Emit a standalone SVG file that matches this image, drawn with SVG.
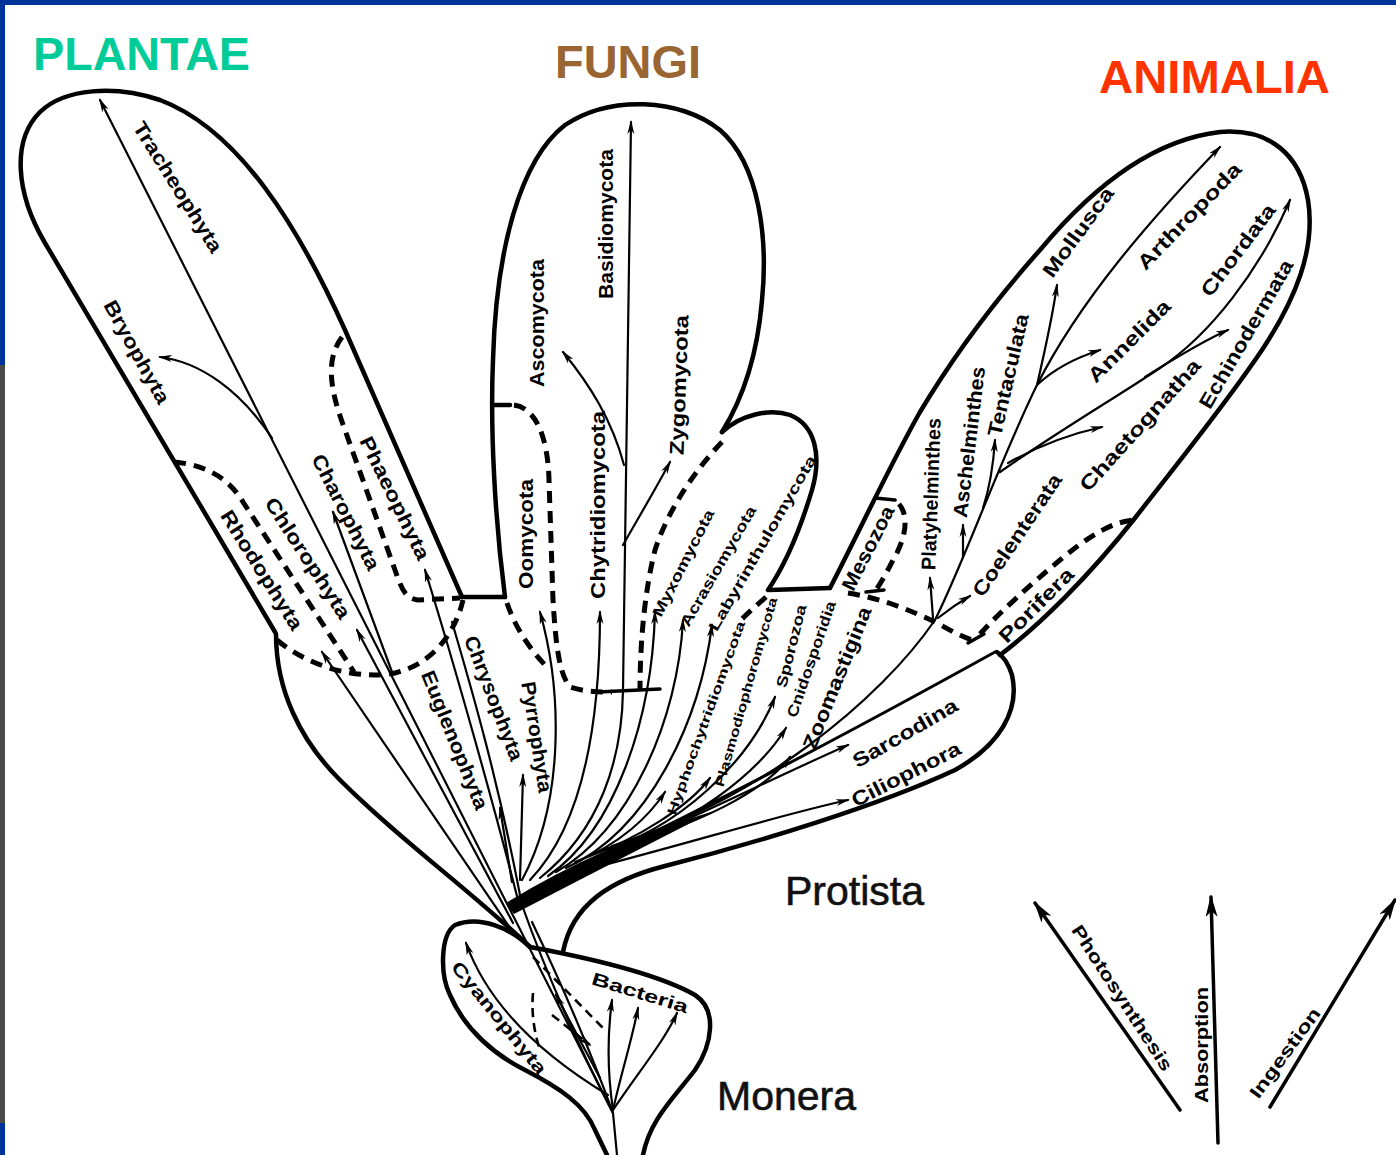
<svg xmlns="http://www.w3.org/2000/svg" width="1396" height="1155" viewBox="0 0 1396 1155">
<defs>
<style>
.o{fill:none;stroke:#000;stroke-width:4.5;stroke-linecap:round;stroke-linejoin:round}
.l{fill:none;stroke:#000;stroke-width:2.2;stroke-linecap:round}
.d{fill:none;stroke:#000;stroke-width:5;stroke-dasharray:12 8}
.dm{fill:none;stroke:#000;stroke-width:2.6;stroke-dasharray:9 6}
.n{fill:none;stroke:#000;stroke-width:3.5;stroke-linecap:round}
.t{font-family:"Liberation Sans",Arial,sans-serif;font-weight:bold;font-size:20px;fill:#000;text-anchor:middle;dominant-baseline:central}
.s{font-size:15px}
.xs{font-size:13px}
.big{font-family:"Liberation Sans",Arial,sans-serif;font-size:41px;fill:#111;stroke:#111;stroke-width:0.6}
.ttl{font-family:"Liberation Sans",Arial,sans-serif;font-weight:bold;font-size:46px}
</style>
<marker id="a" viewBox="0 0 14 8" refX="12" refY="4" markerWidth="14" markerHeight="8" orient="auto" markerUnits="userSpaceOnUse"><path d="M0,0.5 L14,4 L0,7.5 L4,4 Z" fill="#000"/></marker>
<marker id="ab" viewBox="0 0 22 12" refX="20" refY="6" markerWidth="22" markerHeight="12" orient="auto" markerUnits="userSpaceOnUse"><path d="M0,0 L22,6 L0,12 L6,6 Z" fill="#000"/></marker>
</defs>
<rect width="1396" height="1155" fill="#fff"/>
<g id="frame">
<rect x="0" y="0" width="1396" height="5" fill="#003399"/>
<rect x="0" y="0" width="5" height="365" fill="#003399"/>
<rect x="0" y="365" width="5" height="758" fill="#4a4a4a"/>
<rect x="0" y="1123" width="5" height="32" fill="#003399"/>
</g>
<g id="titles">
<text class="ttl" x="33" y="70" fill="#00CC99" textLength="217" lengthAdjust="spacingAndGlyphs">PLANTAE</text>
<text class="ttl" x="555" y="78" fill="#996633" textLength="146" lengthAdjust="spacingAndGlyphs">FUNGI</text>
<text class="ttl" x="1099" y="93" fill="#FF3300" textLength="231" lengthAdjust="spacingAndGlyphs">ANIMALIA</text>
</g>
<g id="plantae">
<path class="o" d="M275,632 C200,505 100,335 45,243 C15,192 12,140 40,112 C65,88 115,85 160,100 C240,130 300,230 345,330 L462,597"/>
<path class="d" d="M277,640 C310,668 360,680 395,673 C430,665 455,635 463,600"/>
<path class="d" d="M174,462 C208,465 230,480 243,502 L354,672"/>
<path class="d" d="M342,337 C325,360 330,390 345,430 L395,570 C402,590 405,598 418,600 L460,598"/>
<text class="t" transform="translate(178 187) rotate(58)" textLength="150" lengthAdjust="spacingAndGlyphs">Tracheophyta</text>
<text class="t" transform="translate(137 352) rotate(61)" textLength="115" lengthAdjust="spacingAndGlyphs">Bryophyta</text>
<text class="t" transform="translate(395 498) rotate(64)" textLength="135" lengthAdjust="spacingAndGlyphs">Phaeophyta</text>
<text class="t" transform="translate(346 512) rotate(63)" textLength="127" lengthAdjust="spacingAndGlyphs">Charophyta</text>
<text class="t" transform="translate(308 558) rotate(57)" textLength="140" lengthAdjust="spacingAndGlyphs">Chlorophyta</text>
<text class="t" transform="translate(262 570) rotate(58)" textLength="137" lengthAdjust="spacingAndGlyphs">Rhodophyta</text>
</g>
<g id="fungi">
<path class="o" d="M505,597 C495,520 490,430 493,360 C496,250 520,160 565,125 C610,95 680,98 720,130 C760,165 768,240 762,300 C757,360 742,400 722,432"/>
<path class="o" d="M722,432 C740,415 770,408 790,415 C815,425 822,455 812,490 C800,530 785,565 768,590"/>
<path class="o" d="M493,405 L510,405"/>
<path class="d" d="M514,405 C537,408 548,440 549,480 L553,600 C556,650 560,675 570,687 C585,692 600,692 612,692"/>
<path class="d" d="M507,603 C515,627 530,650 548,668"/>
<path class="d" d="M722,442 C695,470 668,510 655,550 C645,590 640,640 640,690"/>
<path class="d" d="M766,597 C757,605 749,612 742,619"/>
<path class="o" d="M598,692 L660,689" style="stroke-width:3.5"/>
<text class="t" transform="translate(526 534) rotate(-90)" textLength="110" lengthAdjust="spacingAndGlyphs">Oomycota</text>
<text class="t" transform="translate(537 323) rotate(-90)" textLength="128" lengthAdjust="spacingAndGlyphs">Ascomycota</text>
<text class="t" transform="translate(598 505) rotate(-90)" textLength="188" lengthAdjust="spacingAndGlyphs">Chytridiomycota</text>
<text class="t" transform="translate(606 224) rotate(-90)" textLength="150" lengthAdjust="spacingAndGlyphs">Basidiomycota</text>
<text class="t" transform="translate(679 385) rotate(-88)" textLength="140" lengthAdjust="spacingAndGlyphs">Zygomycota</text>
<text class="t s" transform="translate(683 563) rotate(-63)" textLength="118" lengthAdjust="spacingAndGlyphs">Myxomycota</text>
<text class="t s" transform="translate(718 566) rotate(-60)" textLength="136" lengthAdjust="spacingAndGlyphs">Acrasiomycota</text>
<text class="t s" transform="translate(762 543) rotate(-60)" textLength="200" lengthAdjust="spacingAndGlyphs">Labyrinthulomycota</text>
</g>
<g id="animalia">
<path class="o" d="M830,588 C860,530 890,465 920,412 C960,345 1000,295 1040,250 C1090,190 1150,140 1220,132 C1270,128 1300,155 1308,200 C1316,250 1295,300 1262,350 C1225,405 1180,460 1135,518 C1090,575 1040,625 1000,655"/>
<path class="o" d="M770,590 L830,588"/>
<path class="o" d="M875,498 L895,500" style="stroke-width:3.5"/>
<path class="d" d="M899,504 C910,517 905,540 893,560 C886,574 880,584 876,590"/>
<path class="o" d="M866,592 L884,590" style="stroke-width:3.5"/>
<path class="d" d="M848,593 C880,598 910,610 935,622 C950,630 962,637 972,640"/>
<path class="o" d="M968,643 L984,634" style="stroke-width:3.5"/>
<path class="d" d="M980,634 C1000,612 1030,585 1060,560 C1090,535 1115,520 1137,520"/>
<text class="t" transform="translate(868 548) rotate(-63)" textLength="92" lengthAdjust="spacingAndGlyphs">Mesozoa</text>
<text class="t" transform="translate(931 494) rotate(-88)" textLength="152" lengthAdjust="spacingAndGlyphs">Platyhelminthes</text>
<text class="t" transform="translate(969 442) rotate(-83)" textLength="152" lengthAdjust="spacingAndGlyphs">Aschelminthes</text>
<text class="t" transform="translate(1008 375) rotate(-77)" textLength="125" lengthAdjust="spacingAndGlyphs">Tentaculata</text>
<text class="t" transform="translate(1017 535) rotate(-56)" textLength="143" lengthAdjust="spacingAndGlyphs">Coelenterata</text>
<text class="t" transform="translate(1036 605) rotate(-45)" textLength="97" lengthAdjust="spacingAndGlyphs">Porifera</text>
<text class="t" transform="translate(1140 425) rotate(-48)" textLength="170" lengthAdjust="spacingAndGlyphs">Chaetognatha</text>
<text class="t" transform="translate(1129 341) rotate(-45)" textLength="108" lengthAdjust="spacingAndGlyphs">Annelida</text>
<text class="t" transform="translate(1078 232) rotate(-54)" textLength="106" lengthAdjust="spacingAndGlyphs">Mollusca</text>
<text class="t" transform="translate(1189 216) rotate(-46)" textLength="140" lengthAdjust="spacingAndGlyphs">Arthropoda</text>
<text class="t" transform="translate(1238 250) rotate(-53)" textLength="110" lengthAdjust="spacingAndGlyphs">Chordata</text>
<text class="t" transform="translate(1246 334) rotate(-60)" textLength="168" lengthAdjust="spacingAndGlyphs">Echinodermata</text>
</g>
<g id="protista">
<path class="o" d="M276,634 C276,690 300,740 340,780 C400,840 470,890 530,947"/>
<path class="o" d="M563,952 C572,905 610,880 665,866 C760,842 880,805 955,770 C1000,745 1020,710 1012,675 C1008,662 1003,656 997,652"/>
<path class="o" d="M462,597 L505,597"/>
<path d="M506,903 Q600,845 714,811 Q610,864 514,914 Z" fill="#000"/>
<text class="t" transform="translate(455 740) rotate(68)" textLength="148" lengthAdjust="spacingAndGlyphs">Euglenophyta</text>
<text class="t" transform="translate(494 698) rotate(69)" textLength="132" lengthAdjust="spacingAndGlyphs">Chrysophyta</text>
<text class="t" transform="translate(537 737) rotate(81)" textLength="112" lengthAdjust="spacingAndGlyphs">Pyrrophyta</text>
<text class="t xs" transform="translate(706 718) rotate(-70)" textLength="205" lengthAdjust="spacingAndGlyphs">Hyphochytridiomycota</text>
<text class="t xs" transform="translate(746 692) rotate(-74)" textLength="196" lengthAdjust="spacingAndGlyphs">Plasmodiophoromycota</text>
<text class="t s" transform="translate(791 646) rotate(-76)" textLength="85" lengthAdjust="spacingAndGlyphs">Sporozoa</text>
<text class="t s" transform="translate(811 659) rotate(-71)" textLength="122" lengthAdjust="spacingAndGlyphs">Cnidosporidia</text>
<text class="t" transform="translate(837 678) rotate(-68)" textLength="152" lengthAdjust="spacingAndGlyphs">Zoomastigina</text>
<text class="t" transform="translate(905 733) rotate(-30)" textLength="118" lengthAdjust="spacingAndGlyphs">Sarcodina</text>
<text class="t" transform="translate(906 774) rotate(-27)" textLength="120" lengthAdjust="spacingAndGlyphs">Ciliophora</text>
<text class="big" x="785" y="905">Protista</text>
</g>
<g id="monera">
<path class="o" d="M530,947 C510,928 480,915 455,925 C440,935 440,975 450,995 C465,1030 495,1055 525,1070 C560,1088 585,1105 595,1130 L607,1155"/>
<path class="o" d="M530,947 C600,960 660,975 695,995 C718,1010 712,1045 695,1070 C672,1100 650,1120 643,1155"/>
<path class="dm" d="M533,957 L603,1028"/>
<path class="dm" d="M533,993 C531,1015 535,1035 540,1050"/>
<path class="dm" d="M552,1015 L590,1045" marker-end="url(#a)"/>
<text class="t" transform="translate(640 993) rotate(17)" textLength="100" lengthAdjust="spacingAndGlyphs" style="font-size:18px">Bacteria</text>
<text class="t" transform="translate(499 1018) rotate(51)" textLength="140" lengthAdjust="spacingAndGlyphs" style="font-size:18px">Cyanophyta</text>
<text class="big" x="717" y="1110">Monera</text>
</g>
<g id="nutrition">
<path class="n" d="M1180,1110 L1035,903" marker-end="url(#ab)"/>
<path class="n" d="M1218,1143 L1211,897" marker-end="url(#ab)"/>
<path class="n" d="M1270,1107 L1395,900" marker-end="url(#ab)"/>
<text class="t" style="font-size:18px" transform="translate(1122 998) rotate(57)" textLength="170" lengthAdjust="spacingAndGlyphs">Photosynthesis</text>
<text class="t" style="font-size:18px" transform="translate(1202 1045) rotate(-90)" textLength="116" lengthAdjust="spacingAndGlyphs">Absorption</text>
<text class="t" style="font-size:18px" transform="translate(1285 1053) rotate(-54)" textLength="107" lengthAdjust="spacingAndGlyphs">Ingestion</text>
</g>
<g id="connectors">
<path class="l" d="M613,1113 L100,100" marker-end="url(#a)"/>
<path class="l" d="M272,438 C240,390 200,362 160,357" marker-end="url(#a)"/>
<path class="l" d="M392,672 L333,512" marker-end="url(#a)"/>
<path class="l" d="M510,928 L322,652" marker-end="url(#a)"/>
<path class="l" d="M513,923 L357,630" marker-end="url(#a)"/>
<path class="l" d="M518,900 C490,790 450,650 425,570" marker-end="url(#a)"/>
<path class="l" d="M520,895 C498,780 472,690 452,622"/>
<path class="l" d="M512,882 L500,808" marker-end="url(#a)"/>
<path class="l" d="M520,880 L523,775" marker-end="url(#a)"/>
<path class="l" d="M522,880 C565,800 562,690 540,612" marker-end="url(#a)"/>
<path class="l" d="M530,880 C578,830 600,740 600,612" marker-end="url(#a)"/>
<path class="l" d="M540,878 C600,830 622,760 623,690 L631,122" marker-end="url(#a)"/>
<path class="l" d="M624,465 C612,420 590,385 563,352" marker-end="url(#a)"/>
<path class="l" d="M623,545 C640,515 655,490 670,462" marker-end="url(#a)"/>
<path class="l" d="M548,876 C615,830 652,720 655,612" marker-end="url(#a)"/>
<path class="l" d="M556,872 C630,830 678,720 683,620" marker-end="url(#a)"/>
<path class="l" d="M566,868 C650,830 700,720 712,625" marker-end="url(#a)"/>
<path class="l" d="M575,862 C620,845 650,815 665,792" marker-end="url(#a)"/>
<path class="l" d="M585,858 C640,838 690,805 710,778" marker-end="url(#a)"/>
<path class="l" d="M595,853 C680,830 750,760 775,697" marker-end="url(#a)"/>
<path class="l" d="M602,850 C690,830 760,770 786,728" marker-end="url(#a)"/>
<path class="l" d="M608,848 C700,826 765,790 790,757" marker-end="url(#a)"/>
<path class="l" d="M612,846 C760,800 880,700 935,620"/>
<path class="l" d="M560,875 C620,852 800,760 995,652" style="stroke-width:3"/>
<path class="l" d="M618,850 C700,815 780,775 848,745" marker-end="url(#a)"/>
<path class="l" d="M600,866 C700,840 780,815 848,800" marker-end="url(#a)"/>
<path class="l" d="M935,620 C965,560 1000,460 1037,385 C1080,300 1150,220 1220,147" marker-end="url(#a)"/>
<path class="l" d="M1037,385 C1045,350 1052,320 1057,285" marker-end="url(#a)"/>
<path class="l" d="M1037,385 C1055,368 1075,358 1100,350" marker-end="url(#a)"/>
<path class="l" d="M1000,472 C1060,430 1120,395 1160,368 C1210,335 1260,270 1290,200" marker-end="url(#a)"/>
<path class="l" d="M1145,377 C1180,355 1205,340 1228,330" marker-end="url(#a)"/>
<path class="l" d="M1008,463 C1040,445 1070,434 1102,427" marker-end="url(#a)"/>
<path class="l" d="M983,508 C989,490 993,470 995,440" marker-end="url(#a)"/>
<path class="l" d="M963,557 C963,548 963,540 963,525" marker-end="url(#a)"/>
<path class="l" d="M933,618 L930,578" marker-end="url(#a)"/>
<path class="l" d="M938,618 C948,610 958,603 970,596" marker-end="url(#a)"/>
<path class="l" d="M522,905 C545,970 580,1050 613,1113"/>
<path class="l" d="M532,922 C562,985 592,1055 613,1113"/>
<path class="l" d="M608,1095 C550,1060 490,1010 466,943" marker-end="url(#a)"/>
<path class="l" d="M600,1078 L556,995" marker-end="url(#a)"/>
<path class="l" d="M613,1110 C607,1070 608,1030 612,1000" marker-end="url(#a)"/>
<path class="l" d="M613,1110 C622,1070 632,1040 638,1008" marker-end="url(#a)"/>
<path class="l" d="M613,1110 C640,1070 665,1040 677,1013" marker-end="url(#a)"/>
<path class="l" d="M613,1113 L617,1155"/>
</g>
</svg>
